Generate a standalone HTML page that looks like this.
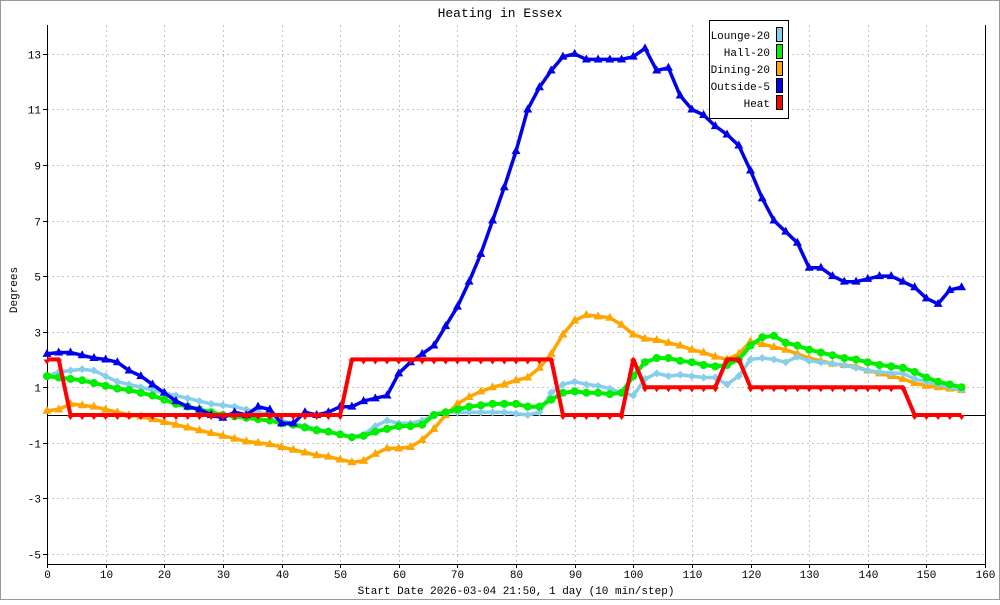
<!DOCTYPE html>
<html><head><meta charset="utf-8"><style>
body{margin:0;background:#fff}
svg text{font-family:"Liberation Mono",monospace;font-size:11px;fill:#000}
</style></head><body>
<svg id="chart" width="1000" height="600" xmlns="http://www.w3.org/2000/svg">
<rect x="0.5" y="0.5" width="999" height="599" fill="#fff" stroke="#999"/>
<text x="500" y="17" text-anchor="middle" style="font-size:13px">Heating in Essex</text>
<text x="17" y="290" text-anchor="middle" transform="rotate(-90 17 290)">Degrees</text>
<text x="516" y="594" text-anchor="middle">Start Date 2026-03-04 21:50, 1 day (10 min/step)</text>
<g id="grid"></g><g id="axes"></g><g id="series"></g>
<g id="legend">
<rect x="709.5" y="20.5" width="79" height="98" fill="#fff" stroke="#000"/>
</g>
</svg>
<script>
const stepX = 2;
const lounge = [1.4,1.55,1.6,1.65,1.6,1.4,1.2,1.1,1.0,0.9,0.8,0.7,0.6,0.5,0.4,0.35,0.3,0.2,0.1,0.0,-0.2,-0.3,-0.4,-0.5,-0.6,-0.7,-0.8,-0.7,-0.4,-0.2,-0.3,-0.3,-0.2,0.0,0.1,0.1,0.1,0.1,0.1,0.1,0.05,0.0,0.1,0.8,1.1,1.2,1.1,1.05,0.95,0.8,0.7,1.3,1.5,1.4,1.45,1.4,1.35,1.35,1.1,1.4,2.0,2.05,2.0,1.9,2.1,1.95,1.9,1.85,1.8,1.7,1.6,1.55,1.5,1.5,1.3,1.2,1.1,1.0,0.9];
const hall = [1.4,1.35,1.3,1.25,1.15,1.05,0.95,0.9,0.8,0.7,0.55,0.4,0.3,0.2,0.1,0.0,-0.05,-0.1,-0.15,-0.2,-0.3,-0.35,-0.45,-0.55,-0.6,-0.7,-0.8,-0.75,-0.6,-0.5,-0.4,-0.4,-0.35,0.0,0.1,0.2,0.3,0.35,0.4,0.4,0.4,0.3,0.3,0.55,0.8,0.85,0.8,0.8,0.75,0.8,1.4,1.9,2.05,2.05,1.95,1.9,1.8,1.75,1.8,2.0,2.5,2.8,2.85,2.6,2.5,2.35,2.25,2.15,2.05,2.0,1.9,1.8,1.75,1.7,1.55,1.35,1.2,1.1,1.0];
const dining = [0.15,0.2,0.4,0.35,0.3,0.2,0.1,0.0,-0.05,-0.15,-0.25,-0.35,-0.45,-0.55,-0.65,-0.75,-0.85,-0.95,-1.0,-1.05,-1.15,-1.25,-1.35,-1.45,-1.5,-1.6,-1.7,-1.65,-1.4,-1.2,-1.2,-1.15,-0.9,-0.5,0.0,0.4,0.65,0.85,1.0,1.1,1.25,1.35,1.7,2.2,2.9,3.4,3.6,3.55,3.5,3.25,2.9,2.75,2.7,2.6,2.5,2.35,2.25,2.1,2.0,2.2,2.65,2.55,2.45,2.35,2.2,2.05,1.95,1.85,1.8,1.75,1.6,1.5,1.4,1.3,1.15,1.05,1.0,0.95,0.9];
const outside = [2.2,2.25,2.25,2.15,2.05,2.0,1.9,1.6,1.4,1.1,0.8,0.5,0.3,0.2,0.0,-0.1,0.1,0.0,0.3,0.2,-0.3,-0.3,0.1,0.0,0.1,0.3,0.3,0.5,0.6,0.7,1.5,1.9,2.2,2.5,3.2,3.9,4.8,5.8,7.0,8.2,9.5,11.0,11.8,12.4,12.9,13.0,12.8,12.8,12.8,12.8,12.9,13.2,12.4,12.5,11.5,11.0,10.8,10.4,10.1,9.7,8.8,7.8,7.0,6.6,6.2,5.3,5.3,5.0,4.8,4.8,4.9,5.0,5.0,4.8,4.6,4.2,4.0,4.5,4.6];
const heat = [2,2,0,0,0,0,0,0,0,0,0,0,0,0,0,0,0,0,0,0,0,0,0,0,0,0,2,2,2,2,2,2,2,2,2,2,2,2,2,2,2,2,2,2,0,0,0,0,0,0,2,1,1,1,1,1,1,1,2,2,1,1,1,1,1,1,1,1,1,1,1,1,1,1,0,0,0,0,0];
const xTicks = [0,10,20,30,40,50,60,70,80,90,100,110,120,130,140,150,160];
const yTicks = [-5,-3,-1,1,3,5,7,9,11,13];
const legendLabels = ["Lounge-20","Hall-20","Dining-20","Outside-5","Heat"];

const NS="http://www.w3.org/2000/svg";
const X0=47,X1=985,Y0=564,YT=25;
const xs=t=>X0+t*(X1-X0)/160;
const ys=v=>415-v*(500/18);
function mk(tag,attrs,parent){const e=document.createElementNS(NS,tag);for(const k in attrs)e.setAttribute(k,attrs[k]);parent.appendChild(e);return e;}
const grid=document.getElementById('grid'),axes=document.getElementById('axes'),ser=document.getElementById('series');
xTicks.forEach(t=>{
  const x=Math.round(xs(t))+0.5;
  if(t>0&&t<160){const l=mk('line',{x1:x,x2:x,y1:YT,y2:Y0,stroke:'#c4c4c4','stroke-dasharray':'2,3'},grid);
  
  }
  mk('line',{x1:x,x2:x,y1:Y0,y2:Y0+4,stroke:'#000'},axes);
  const tx=mk('text',{x:x,y:Y0+14,'text-anchor':'middle'},axes);tx.textContent=t;
  
  
});
yTicks.forEach(v=>{
  const y=Math.round(ys(v))+0.5;
  const l=mk('line',{x1:X0,x2:X1,y1:y,y2:y,stroke:'#c4c4c4','stroke-dasharray':'2,3'},grid);
  
  
  mk('line',{x1:X0-4,x2:X0,y1:y,y2:y,stroke:'#000'},axes);
  const tx=mk('text',{x:X0-6,y:y+4,'text-anchor':'end'},axes);tx.textContent=v;
  
  
});
mk('line',{x1:X0+0.5,x2:X0+0.5,y1:YT,y2:Y0,stroke:'#000'},axes);
mk('line',{x1:X1+0.5,x2:X1+0.5,y1:YT,y2:Y0,stroke:'#000'},axes);
mk('line',{x1:X0,x2:X1,y1:Y0+0.5,y2:Y0+0.5,stroke:'#000'},axes);
mk('line',{x1:X0,x2:X1,y1:Math.round(ys(0))+0.5,y2:Math.round(ys(0))+0.5,stroke:'#000'},axes);

function marker(kind,x,y,color,g){
  if(kind==='circle')return mk('circle',{cx:x,cy:y,r:4,fill:color},g);
  if(kind==='tri')return mk('polygon',{points:`${x-4.5},${y+3} ${x+4.5},${y+3} ${x},${y-5}`,fill:color},g);
  if(kind==='down')return mk('polygon',{points:`${x-3.5},${y} ${x+3.5},${y} ${x},${y+5}`,fill:color},g);
  return mk('polygon',{points:`${x-4},${y} ${x},${y-4} ${x+4},${y} ${x},${y+4}`,fill:color},g);
}
function drawSeries(vals,color,kind,name,w){
  const g=mk('g',{},ser);
  
  
  const pts=vals.map((v,i)=>xs(i*stepX).toFixed(1)+','+ys(v).toFixed(1)).join(' ');
  const pl=mk('polyline',{points:pts,fill:'none',stroke:color,'stroke-width':w,'stroke-linejoin':'round'},g);
  
  
  vals.forEach((v,i)=>{const m=marker(kind,xs(i*stepX),ys(v),color,g);
    
    });
}
drawSeries(dining,'#ffa500','tri','dining-series',3.5);
drawSeries(lounge,'#87ceeb','diamond','lounge-series',3.5);
drawSeries(hall,'#00ee00','circle','hall-series',4);
drawSeries(outside,'#0000ee','tri','outside-series',3.5);
drawSeries(heat,'#ff0000','down','heat-series',4);

const colors=['#87ceeb','#00ee00','#ffa500','#0000ee','#ff0000'];
const lg=document.getElementById('legend');
legendLabels.forEach((lab,i)=>{
  const y=35+i*17;
  const t=mk('text',{x:770,y:y+4,'text-anchor':'end'},lg);t.textContent=lab;
  
  
  const r=mk('rect',{x:776.5,y:y-7.5,width:6,height:14,fill:colors[i],stroke:'#000'},lg);
  
  
});
</script>
</body></html>
